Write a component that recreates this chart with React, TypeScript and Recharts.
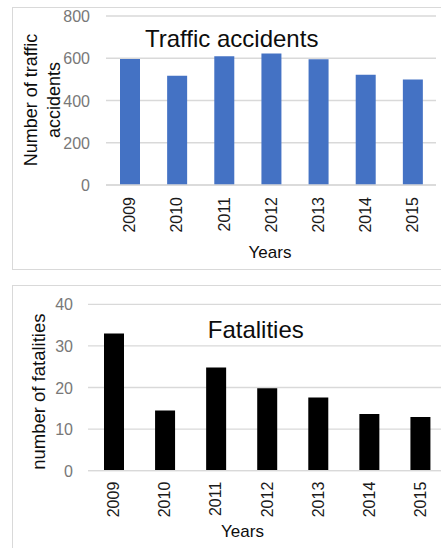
import React from 'react';
import { BarChart, Bar, XAxis, YAxis, CartesianGrid } from 'recharts';

const years = ['2009', '2010', '2011', '2012', '2013', '2014', '2015'];
const accidents = [597, 517, 609, 622, 595, 522, 500];
const fatalities = [33, 14.5, 24.8, 19.8, 17.6, 13.6, 12.9];
const accidentTicks = [0, 200, 400, 600, 800];
const fatalityTicks = [0, 10, 20, 30, 40];

const accidentData = years.map((year, i) => ({ year, value: accidents[i] }));
const fatalityData = years.map((year, i) => ({ year, value: fatalities[i] }));

const FONT = '"Liberation Sans", Arial, sans-serif';
const GRID = '#d9d9d9';

const makeXTick = (offset: number) => (props: any) => {
  const { x, y, payload } = props;
  return (
    <g transform={`translate(${x},${y + offset}) rotate(-90)`}>
      <text textAnchor="end" dy="0.36em" fontSize={16} fill="#1a1a1a" fontFamily={FONT}>
        {payload.value}
      </text>
    </g>
  );
};

const YTick = (props: any) => {
  const { x, y, payload } = props;
  return (
    <text x={x} y={y} textAnchor="end" dy="0.38em" fontSize={16} fill="#787878" fontFamily={FONT}>
      {payload.value}
    </text>
  );
};

export default function App() {
  return (
    <div
      style={{
        position: 'absolute',
        left: 0,
        top: 0,
        width: 441,
        height: 548,
        overflow: 'hidden',
        background: '#fff',
      }}
    >
      <div
        style={{
          position: 'absolute',
          left: 12,
          top: 7,
          width: 460,
          height: 263,
          boxSizing: 'border-box',
          border: `1px solid ${GRID}`,
        }}
      />
      <div
        style={{
          position: 'absolute',
          left: 12,
          top: 285,
          width: 460,
          height: 300,
          boxSizing: 'border-box',
          border: `1px solid ${GRID}`,
        }}
      />

      <div style={{ position: 'absolute', left: 0, top: 0 }}>
        <BarChart
          width={441}
          height={270}
          data={accidentData}
          margin={{ top: 16, right: 5, bottom: 0, left: 0 }}
          barSize={20}
        >
          <CartesianGrid vertical={false} stroke={GRID} strokeWidth={1.3} />
          <XAxis
            dataKey="year"
            height={85}
            tickLine={false}
            tickSize={0}
            tickMargin={0}
            axisLine={{ stroke: GRID, strokeWidth: 1.3 }}
            tick={makeXTick(12)}
            interval={0}
          />
          <YAxis
            width={106}
            domain={[0, 800]}
            ticks={accidentTicks}
            axisLine={false}
            tickLine={false}
            tickSize={0}
            tickMargin={16}
            tick={YTick}
          />
          <Bar dataKey="value" fill="#4472c4" isAnimationActive={false} />
        </BarChart>
      </div>

      <div style={{ position: 'absolute', left: 0, top: 270 }}>
        <BarChart
          width={446}
          height={278}
          data={fatalityData}
          margin={{ top: 34.3, right: 0.5, bottom: 0, left: 0 }}
          barSize={20}
        >
          <CartesianGrid vertical={false} stroke={GRID} strokeWidth={1.3} />
          <XAxis
            dataKey="year"
            height={77.3}
            tickLine={false}
            tickSize={0}
            tickMargin={0}
            axisLine={{ stroke: GRID, strokeWidth: 1.3 }}
            tick={makeXTick(11)}
            interval={0}
          />
          <YAxis
            width={88}
            domain={[0, 40]}
            ticks={fatalityTicks}
            axisLine={false}
            tickLine={false}
            tickSize={0}
            tickMargin={15}
            tick={YTick}
          />
          <Bar dataKey="value" fill="#000000" isAnimationActive={false} />
        </BarChart>
      </div>

      <svg
        width={441}
        height={548}
        style={{ position: 'absolute', left: 0, top: 0, pointerEvents: 'none' }}
        fontFamily={FONT}
      >
        <text x={231.7} y={46.7} textAnchor="middle" fontSize={24} fill="#0d0d0d">
          Traffic accidents
        </text>
        <text transform="translate(36.5,100) rotate(-90)" textAnchor="middle" fontSize={18} fill="#0d0d0d">
          Number of traffic
        </text>
        <text transform="translate(60,100) rotate(-90)" textAnchor="middle" fontSize={18} fill="#0d0d0d">
          accidents
        </text>
        <text x={270} y={258.3} textAnchor="middle" fontSize={17} fill="#0d0d0d">
          Years
        </text>

        <text x={255.8} y={338.3} textAnchor="middle" fontSize={24} fill="#0d0d0d">
          Fatalities
        </text>
        <text transform="translate(45,391.7) rotate(-90)" textAnchor="middle" fontSize={18.5} fill="#0d0d0d">
          number of fatalities
        </text>
        <text x={242.5} y={537.3} textAnchor="middle" fontSize={17} fill="#0d0d0d">
          Years
        </text>
      </svg>
    </div>
  );
}
